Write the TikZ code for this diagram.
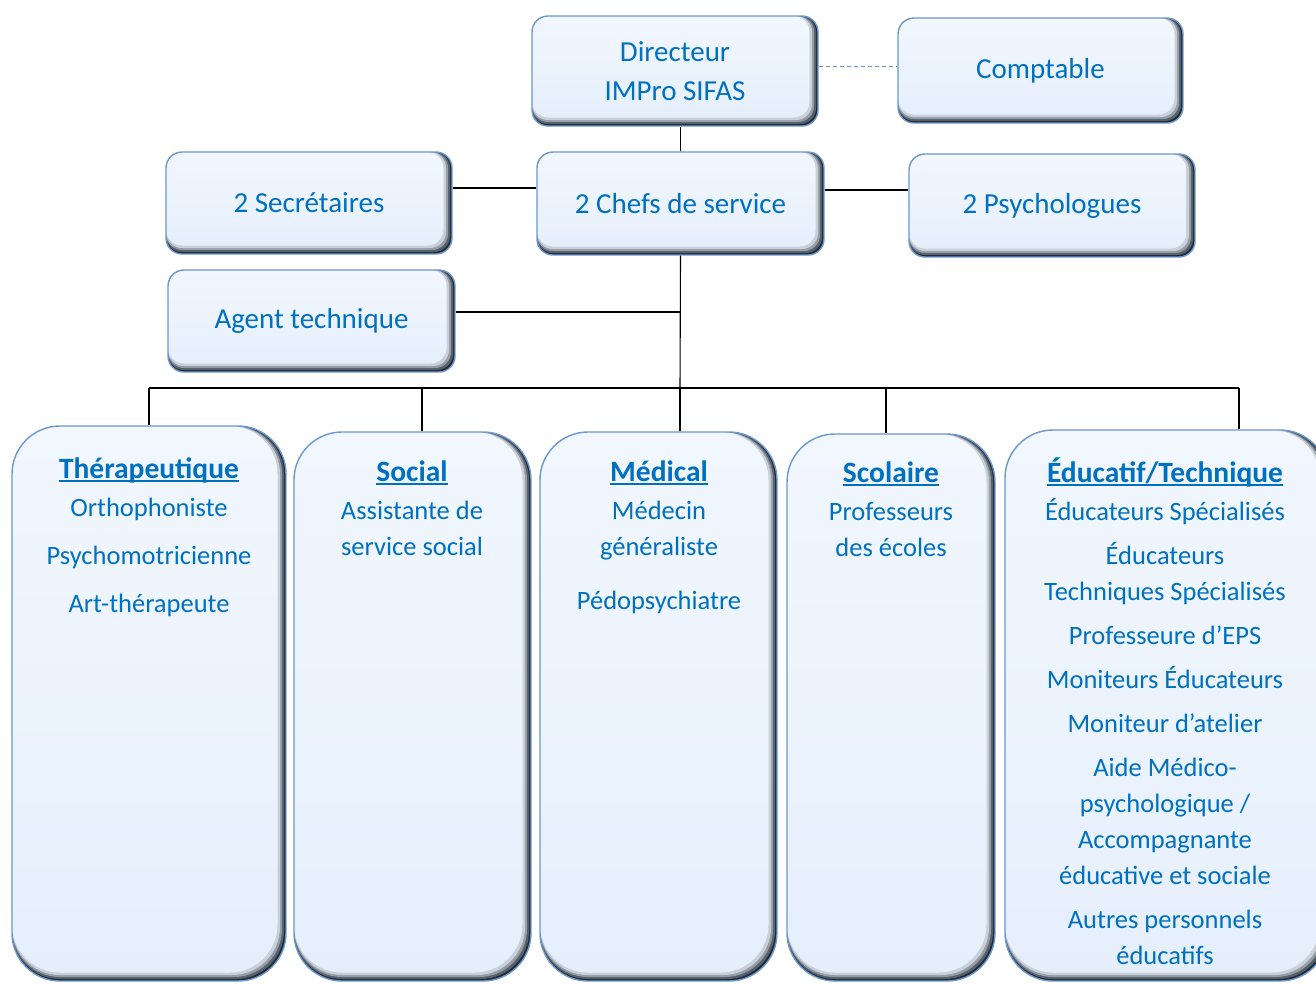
\documentclass[tikz,border=0pt]{standalone}
\usepackage{fontspec}
\setmainfont{Carlito}
\usetikzlibrary{calc}
\definecolor{txt}{HTML}{0070C0}
\definecolor{boxfill}{HTML}{E5EFFC}
\definecolor{boxhl}{HTML}{F2F7FE}
\definecolor{edge}{HTML}{6A98CF}
\definecolor{shA}{HTML}{222B35}
\definecolor{shB}{HTML}{56606B}
\definecolor{shC}{HTML}{949CA6}
\definecolor{shD}{HTML}{C9D0DA}
\definecolor{dashc}{HTML}{5B9BD5}
\newcommand\glossy[1]{%
 \fill[shA,sharp corners] (path picture bounding box.south west) rectangle (path picture bounding box.north east);
 \fill[shB,rounded corners=#1] ([yshift=2pt]path picture bounding box.south west) rectangle ([xshift=-2pt]path picture bounding box.north east);
 \fill[shC,rounded corners=#1] ([yshift=4pt]path picture bounding box.south west) rectangle ([xshift=-4pt]path picture bounding box.north east);
 \fill[shD,rounded corners=#1] ([yshift=6pt]path picture bounding box.south west) rectangle ([xshift=-6pt]path picture bounding box.north east);
 \shade[top color=boxhl,bottom color=boxfill,rounded corners=#1] ([yshift=8.5pt]path picture bounding box.south west) rectangle ([xshift=-8.5pt]path picture bounding box.north east);
}
\newcommand\hdul[1]{\setbox0\hbox{#1}\rlap{\rule[-4pt]{\wd0}{2pt}}\box0}
\tikzset{
 basebox/.style={draw=edge, line width=1.4pt, fill=boxfill, inner sep=0pt, text=txt, align=center},
 smallbox/.style={basebox, rounded corners=16pt, font=\fontsize{29}{39}\selectfont, path picture={\glossy{16pt}}},
 colbox/.style={basebox, rounded corners=48pt, path picture={\glossy{48pt}}},
 coltext/.style={text=txt, align=center, inner sep=0pt, anchor=base, font=\fontsize{26.5}{36}\selectfont},
 link/.style={draw=black, line width=1.1pt},
 dlink/.style={draw=dashc, line width=1pt, dash pattern=on 4pt off 3pt}
}
\newcommand\hd[1]{{\fontsize{29.5}{36}\selectfont\bfseries\hdul{#1}}}
\begin{document}
\begin{tikzpicture}[x=1pt,y=-1pt]
\fill[white] (0,0) rectangle (1316,983);
\useasboundingbox (0,0) rectangle (1316,983);
% top boxes
\node[smallbox, minimum width=286pt, minimum height=110pt] (dir) at (675,71) {Directeur\\IMPro SIFAS};
\node[smallbox, minimum width=285pt, minimum height=105pt] (compt) at (1040.5,70.5) {Comptable};
\node[smallbox, minimum width=286pt, minimum height=102pt] (secr) at (309,203) {2 Secrétaires};
\node[smallbox, minimum width=287pt, minimum height=103pt] (chefs) at (680.5,203.5) {2 Chefs de service};
\node[smallbox, minimum width=286pt, minimum height=103pt] (psych) at (1052,205.5) {2 Psychologues};
\node[smallbox, minimum width=287pt, minimum height=102pt] (agent) at (311.5,321) {Agent technique};
% columns
\node[colbox, minimum width=274pt, minimum height=555pt] (thera) at (149,703.5) {};
\node[colbox, minimum width=237pt, minimum height=549pt] (social) at (412.5,706.5) {};
\node[colbox, minimum width=237pt, minimum height=549pt] (medic) at (658.5,706.5) {};
\node[colbox, minimum width=208pt, minimum height=547pt] (scol) at (891,707.5) {};
\node[colbox, minimum width=323pt, minimum height=551pt] (educ) at (1166.5,705.5) {};
% column texts (anchor = baseline of last line)
\node[coltext] (theraT) at (149,612) {\hd{Thérapeutique}\\[2pt] Orthophoniste\\[12pt] Psychomotricienne\\[12pt] Art-thérapeute};
\node[coltext] (socialT) at (412,555) {\hd{Social}\\[2pt] Assistante de\\ service social};
\node[coltext] (medicT) at (659,609) {\hd{Médical}\\[2pt] Médecin\\ généraliste\\[18pt] Pédopsychiatre};
\node[coltext] (scolT) at (891,556) {\hd{Scolaire}\\[2pt] Professeurs\\ des écoles};
\node[coltext] (educT) at (1165,964) {\hd{Éducatif/Technique}\\[2pt] Éducateurs Spécialisés\\[8pt] Éducateurs\\ Techniques Spécialisés\\[8pt] Professeure d’EPS\\[8pt] Moniteurs Éducateurs\\[8pt] Moniteur d’atelier\\[8pt] Aide Médico-\\ psychologique /\\ Accompagnante\\ éducative et sociale\\[8pt] Autres personnels\\ éducatifs};
% connectors
\draw[dlink] ([yshift=5pt]dir.east) -- ([yshift=5pt]dir.east -| compt.west);
\draw[link] (chefs.north) -- (chefs.north |- dir.south);
\draw[link] ([yshift=15pt]secr.east) -- ([yshift=15pt]secr.east -| chefs.west);
\draw[link] ([yshift=13.5pt]chefs.east) -- ([yshift=13.5pt]chefs.east -| psych.west);
\coordinate (bus) at (680,388);
\draw[link] (chefs.south) -- (bus);
\draw[link] ([yshift=9pt]agent.east) -- ([yshift=9pt]agent.east -| chefs.south);
\coordinate (b1) at (149,388);
\coordinate (b2) at (422,388);
\coordinate (b3) at (680,388);
\coordinate (b4) at (886,388);
\coordinate (b5) at (1239,388);
\draw[link] (b1) -- (b5);
\draw[link] (b1) -- (b1 |- thera.north);
\draw[link] (b2) -- (b2 |- social.north);
\draw[link] (b3) -- (b3 |- medic.north);
\draw[link] (b4) -- (b4 |- scol.north);
\draw[link] (b5) -- (b5 |- educ.north);
\end{tikzpicture}
\end{document}
